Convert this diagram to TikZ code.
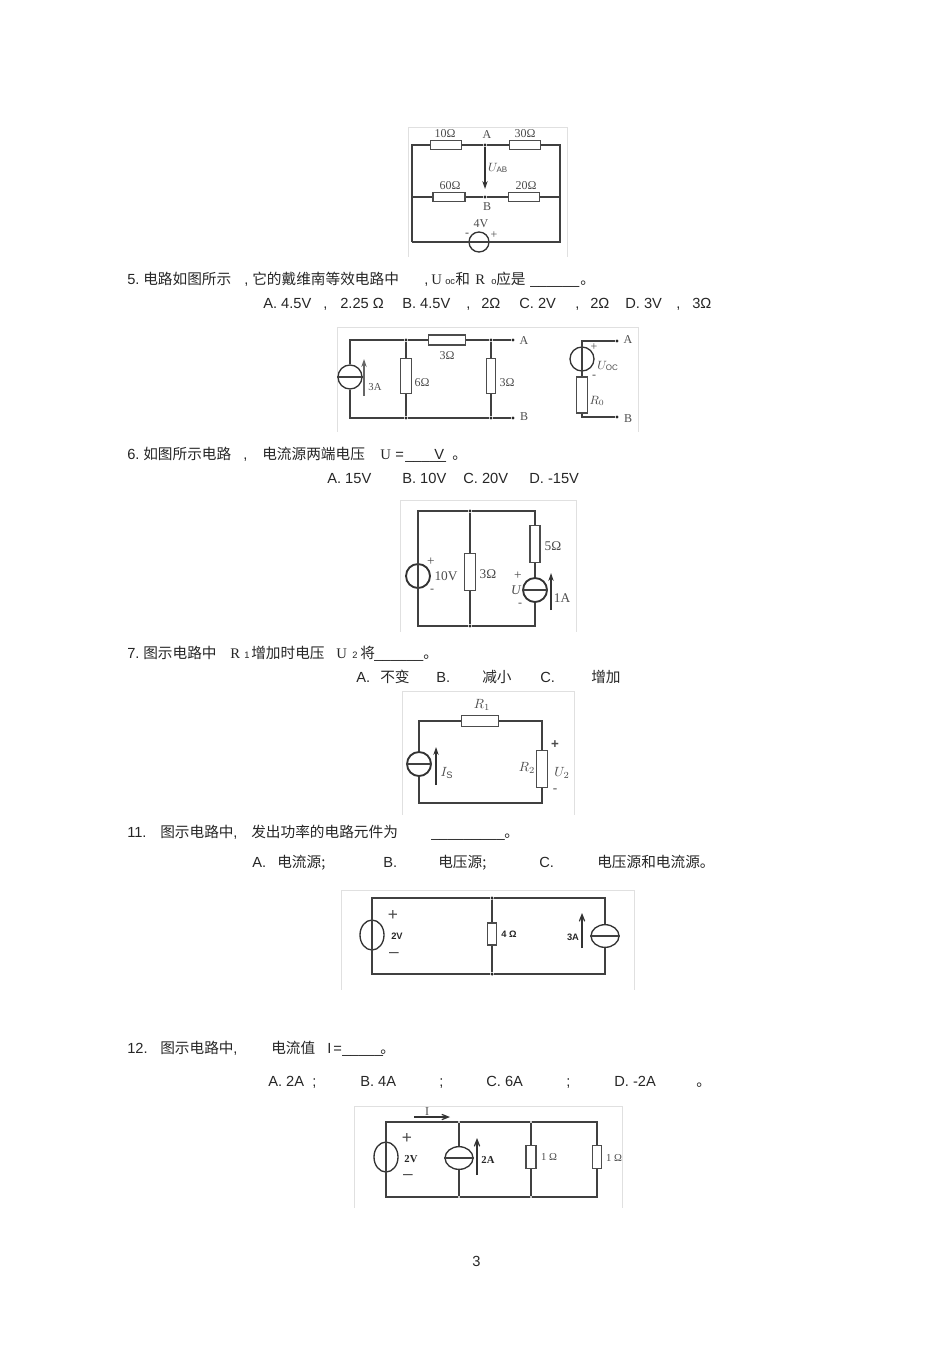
\documentclass[tikz,border=0pt]{standalone}
\usepackage{fontspec}
\setmainfont{Liberation Sans}
\newfontfamily\cjk{Noto Sans CJK SC}
\newfontfamily\serifcir{Liberation Serif}
\usetikzlibrary{shapes.geometric}
\usetikzlibrary{arrows.meta}
\newcommand{\zh}[1]{{\cjk #1}}
\newcommand{\petit}[1]{{\fontsize{7}{8}\selectfont #1}}
\newcommand{\ligne}[3]{\foreach \px/\ptxt [count=\ni] in {#3} \node[texte] (#1-\ni) at (\px,#2) {\ptxt};}
\begin{document}
\begin{tikzpicture}[x=0.75pt,y=-0.75pt]
% définition des paramètres
\tikzstyle texte=[anchor=base west,inner sep=0pt,font=\fontsize{11}{13}\selectfont,color=black!85]
\tikzstyle filcir=[color=black!75,line width=0.8pt]
\tikzstyle cadre=[color=black!12,line width=0.6pt]
\tikzstyle rescir=[draw=black!70,fill=white,rectangle,inner sep=0pt,line width=1pt]
\tikzstyle srccir=[draw=black!80,ellipse,inner sep=0pt,line width=1pt,minimum width=18pt,minimum height=18pt]
\tikzstyle pointcir=[circle,fill=black!85,inner sep=0pt,minimum size=2.6pt]
\tikzstyle etiq=[inner sep=0pt,color=black!70,font=\serifcir\fontsize{9}{10}\selectfont]
\tikzstyle etiqb=[inner sep=0pt,color=black!85,font=\bfseries\fontsize{7}{9}\selectfont]
\tikzstyle fleche=[color=black!80,line width=0.9pt,-{Stealth[length=6pt,width=4pt]}]
\tikzstyle flechev=[color=black!80,line width=0.9pt,-{Straight Barb[length=5pt,width=4pt]}]
\useasboundingbox (0,0) rectangle (950,1345);
% les cadres des figures
\foreach \xa/\ya/\xb/\yb in {408/127/567/257,337/327/638/432,400/500/576/632,402/691/574/815,341/890/634/990,354/1106/622/1208}
    \draw [cadre] (\xa,\yb) -- (\xa,\ya) -- (\xb,\ya) -- (\xb,\yb);
% les textes
\ligne{q5}{284}{127/5.,143/\zh{电路如图所示},244/{,},252/\zh{它的戴维南等效电路中},424/{,},431/{\serifcir U},445/\petit{oc},455/\zh{和},475/{\serifcir R},491/\petit{o},496/\zh{应是},530/\_\_\_\_\_\_,580/\zh{。}}
\ligne{r5}{308}{263/A. 4.5V,323/{,},340/2.25 Ω,402/B. 4.5V,466/{,},481/2Ω,519/C. 2V,575/{,},590/2Ω,625/D. 3V,676/{,},692/3Ω}
\ligne{q6}{459}{127/6.,143/\zh{如图所示电路},243/{,},262/\zh{电流源两端电压},380/{\serifcir U},395/=,405/\_\_\_\rlap{\hspace{3.4pt}V}\_\_,452/\zh{。}}
\ligne{r6}{483}{327/A. 15V,402/B. 10V,463/C. 20V,529/D. -15V}
\ligne{q7}{658}{127/7.,143/\zh{图示电路中},230/{\serifcir R},244/\petit{1},251/\zh{增加时电压},336/{\serifcir U},352/\petit{2},360/\zh{将},374/\_\_\_\_\_\_,423/\zh{。}}
\ligne{r7}{682}{356/A.,380/\zh{不变},436/B.,482/\zh{减小},540/C.,591/\zh{增加}}
\ligne{q11}{837}{127/11.,160/\zh{图示电路中},233/{,},251/\zh{发出功率的电路元件为},431/\_\_\_\_\_\_\_\_\_,504/\zh{。}}
\ligne{r11}{867}{252/A.,277/\zh{电流源;},383/B.,438/\zh{电压源;},539/C.,597/\zh{电压源和电流源。}}
\ligne{q12}{1053}{127/12.,160/\zh{图示电路中},233/{,},271/\zh{电流值},327/I,333/=,342/\_\_\_\_\_,380/\zh{。}}
\ligne{r12}{1086}{268/A. 2A,312/;,360/B. 4A,439/;,486/C. 6A,566/;,614/D. -2A,696/\zh{。}}
\node[texte] (numpage) at (472,1266) {3};
% figure 1 : le pont
\coordinate (hga) at (412,145); \coordinate (hda) at (560,145);
\coordinate (mga) at (412,197); \coordinate (mda) at (560,197);
\coordinate (bga) at (412,242); \coordinate (bda) at (560,242);
\node[pointcir] (nA) at (485,145) {};
\node[pointcir] (nB) at (485,197) {};
\node[rescir,minimum width=23pt,minimum height=6.5pt] (rdix) at (446,145) {};
\node[rescir,minimum width=23pt,minimum height=6.5pt] (rtrente) at (525,145) {};
\node[rescir,minimum width=24pt,minimum height=6.5pt] (rsoix) at (449,197) {};
\node[rescir,minimum width=23pt,minimum height=6.5pt] (rvingt) at (524,197) {};
\node[srccir,minimum width=15pt,minimum height=15pt] (vquatre) at (479,242) {};
\draw [filcir] (vquatre.west) -- (vquatre.east);
\draw [filcir] (bga) -- (mga) -- (hga) -- (rdix) -- (nA) -- (rtrente) -- (hda) -- (mda) -- (bda) -- (vquatre) -- (bga);
\draw [filcir] (mga) -- (rsoix) -- (nB) -- (rvingt) -- (mda);
\coordinate (fab) at (485,189);
\draw [fleche] (nA) -- (fab);
\node[etiq] (lda) at (445,134) {10Ω};
\node[etiq] (ltr) at (525,134) {30Ω};
\node[etiq] (lso) at (450,186) {60Ω};
\node[etiq] (lvi) at (526,186) {20Ω};
\node[etiq] (lA) at (487,135) {A};
\node[etiq] (lB) at (487,207) {B};
\node[etiq] (lU) at (498,168) {$U_{\mathrm{AB}}$};
\node[etiq] (lqu) at (481,224) {4V};
\node[etiq] (lm) at (467,235) {-};
\node[etiq] (lp) at (494,235) {+};
% figure 2 : les deux schémas
\coordinate (hgb) at (350,340); \coordinate (bgb) at (350,418);
\node[pointcir] (nhs) at (406,340) {};
\node[pointcir] (nbs) at (406,418) {};
\node[pointcir] (nhr) at (491,340) {};
\node[pointcir] (nbr) at (491,418) {};
\node[pointcir] (nAb) at (513,340) {};
\node[pointcir] (nBb) at (513,418) {};
\node[srccir] (itrois) at (350,377) {};
\node[rescir,minimum width=8pt,minimum height=26pt] (rsix) at (406,376) {};
\node[rescir,minimum width=28pt,minimum height=7.5pt] (rtrh) at (447,340) {};
\node[rescir,minimum width=6.5pt,minimum height=26pt] (rtrv) at (491,376) {};
\draw [filcir] (itrois.west) -- (itrois.east);
\draw [filcir] (itrois) -- (hgb) -- (nhs) -- (rtrh) -- (nhr) -- (nAb);
\draw [filcir] (itrois) -- (bgb) -- (nbs) -- (nbr) -- (nBb);
\draw [filcir] (nhs) -- (rsix) -- (nbs);
\draw [filcir] (nhr) -- (rtrv) -- (nbr);
\coordinate (fbb) at (364,396); \coordinate (fhb) at (364,359);
\draw [fleche,line width=1.6pt,color=black!60] (fbb) -- (fhb);
\node[etiq,font=\serifcir\fontsize{8}{9}\selectfont] (ltA) at (375,387) {3A};
\node[etiq] (lsi) at (422,383) {6Ω};
\node[etiq] (ltt) at (447,356) {3Ω};
\node[etiq] (ltv) at (507,383) {3Ω};
\node[etiq,font=\serifcir\fontsize{9}{9}\selectfont] (lAb) at (524,341) {A};
\node[etiq,font=\serifcir\fontsize{9}{9}\selectfont] (lBb) at (524,417) {B};
\coordinate (hgc) at (582,341); \coordinate (bgc) at (582,417);
\node[pointcir] (nAc) at (617,341) {};
\node[pointcir] (nBc) at (617,417) {};
\node[srccir] (vco) at (582,359) {};
\node[rescir,minimum width=8pt,minimum height=27pt] (rzero) at (582,395) {};
\draw [filcir] (nAc) -- (hgc) -- (vco.north) -- (vco.south) -- (rzero) -- (bgc) -- (nBc);
\node[etiq] (lpc) at (594,347) {+};
\node[etiq] (lmc) at (594,377) {-};
\node[etiq] (lUo) at (608,366) {$U_{\mathrm{OC}}$};
\node[etiq] (lRo) at (597,401) {$R_0$};
\node[etiq,font=\serifcir\fontsize{9}{9}\selectfont] (lAc) at (628,340) {A};
\node[etiq,font=\serifcir\fontsize{9}{9}\selectfont] (lBc) at (628,419) {B};
% figure 3
\coordinate (hgd) at (418,511); \coordinate (bgd) at (418,626);
\coordinate (hdd) at (535,511); \coordinate (bdd) at (535,626);
\node[pointcir] (nhd) at (470,511) {};
\node[pointcir] (nbd) at (470,626) {};
\node[srccir,line width=1.4pt] (vdix) at (418,576) {};
\node[rescir,minimum width=8pt,minimum height=27.5pt] (rtrd) at (470,572) {};
\node[rescir,minimum width=7.5pt,minimum height=27.5pt] (rcinq) at (535,544) {};
\node[srccir,line width=1.4pt] (iun) at (535,590) {};
\draw [filcir] (iun.west) -- (iun.east);
\draw [filcir] (vdix.north) -- (vdix.south);
\draw [filcir] (vdix) -- (hgd) -- (nhd) -- (hdd) -- (rcinq) -- (iun) -- (bdd) -- (nbd) -- (bgd) -- (vdix);
\draw [filcir] (nhd) -- (rtrd) -- (nbd);
\coordinate (fbd) at (551,610); \coordinate (fhd) at (551,573);
\draw [fleche] (fbd) -- (fhd);
\node[etiq,font=\serifcir\fontsize{10}{10}\selectfont] (lpd) at (431,562) {+};
\node[etiq] (lmd) at (432,591) {-};
\node[etiq,font=\serifcir\fontsize{10}{10}\selectfont] (ldv) at (446,576) {10V};
\node[etiq,font=\serifcir\fontsize{10}{10}\selectfont] (lto) at (488,574) {3Ω};
\node[etiq,font=\serifcir\fontsize{10}{10}\selectfont] (lco) at (553,546) {5Ω};
\node[etiq,font=\serifcir\fontsize{10}{10}\selectfont] (lpu) at (518,576) {+};
\node[etiq,font=\serifcir\itshape\fontsize{10}{10}\selectfont] (lUd) at (516,590) {U};
\node[etiq] (lmu) at (520,605) {-};
\node[etiq,font=\serifcir\fontsize{10}{10}\selectfont] (lun) at (562,598) {1A};
% figure 4
\coordinate (hge) at (419,721); \coordinate (bge) at (419,803);
\coordinate (hde) at (542,721); \coordinate (bde) at (542,803);
\node[srccir,line width=1.4pt] (isrc) at (419,764) {};
\node[rescir,minimum width=28pt,minimum height=8pt] (rpre) at (480,721) {};
\node[rescir,minimum width=8pt,minimum height=28pt] (rdeu) at (542,769) {};
\draw [filcir] (isrc.west) -- (isrc.east);
\draw [filcir] (isrc) -- (hge) -- (rpre) -- (hde) -- (rdeu) -- (bde) -- (bge) -- (isrc);
\coordinate (fbe) at (436,785); \coordinate (fhe) at (436,747);
\draw [fleche] (fbe) -- (fhe);
\node[etiq,font=\serifcir\fontsize{10}{10}\selectfont] (lRu) at (482,705) {$R_1$};
\node[etiq,font=\serifcir\fontsize{10}{10}\selectfont] (lIs) at (447,773) {$I_{\mathrm{S}}$};
\node[etiq,font=\serifcir\fontsize{10}{10}\selectfont] (lRd) at (527,768) {$R_2$};
\node[etiq,font=\serifcir\fontsize{10}{10}\selectfont] (lUe) at (562,773) {$U_2$};
\node[etiq,font=\bfseries\fontsize{10}{10}\selectfont] (lpe) at (555,745) {+};
\node[etiq,font=\serifcir\fontsize{10}{10}\selectfont] (lme) at (555,791) {-};
% figure 5
\coordinate (hgf) at (372,898); \coordinate (bgf) at (372,974);
\coordinate (hdf) at (605,898); \coordinate (bdf) at (605,974);
\node[pointcir] (nhf) at (492,898) {};
\node[pointcir] (nbf) at (492,974) {};
\node[srccir,minimum width=18pt,minimum height=22.5pt] (vdeux) at (372,935) {};
\node[srccir,minimum width=21pt,minimum height=17pt] (itr) at (605,936) {};
\node[rescir,minimum width=7pt,minimum height=16.5pt] (rqua) at (492,934) {};
\draw [filcir] (vdeux.north) -- (vdeux.south);
\draw [filcir] (itr.west) -- (itr.east);
\draw [filcir] (vdeux) -- (hgf) -- (nhf) -- (hdf) -- (itr) -- (bdf) -- (nbf) -- (bgf) -- (vdeux);
\draw [filcir] (nhf) -- (rqua) -- (nbf);
\coordinate (fbf) at (582,948); \coordinate (fhf) at (582,913);
\draw [flechev] (fbf) -- (fhf);
\node[etiq,font=\fontsize{13}{13}\selectfont] (lpf) at (393,915) {+};
\node[etiqb] (ldf) at (397,936) {2V};
\node[etiq,font=\fontsize{13}{13}\selectfont] (lmf) at (394,955) {\textendash};
\node[etiqb] (lqf) at (509,934) {4 Ω};
\node[etiqb] (ltf) at (573,937) {3A};
% figure 6
\coordinate (hgg) at (386,1122); \coordinate (bgg) at (386,1197);
\coordinate (hdg) at (597,1122); \coordinate (bdg) at (597,1197);
\node[pointcir,minimum size=1pt] (nsh) at (459,1122) {};
\node[pointcir,minimum size=1pt] (nsb) at (459,1197) {};
\node[pointcir,minimum size=1pt] (nrh) at (531,1122) {};
\node[pointcir,minimum size=1pt] (nrb) at (531,1197) {};
\node[srccir,minimum width=18pt,minimum height=22.5pt] (vdg) at (386,1157) {};
\node[srccir,minimum width=21pt,minimum height=17pt] (idg) at (459,1158) {};
\node[rescir,minimum width=7.5pt,minimum height=17pt] (run) at (531,1157) {};
\node[rescir,minimum width=6.5pt,minimum height=17pt] (rde) at (597,1157) {};
\draw [filcir] (vdg.north) -- (vdg.south);
\draw [filcir] (idg.west) -- (idg.east);
\draw [filcir] (vdg) -- (hgg) -- (nsh) -- (nrh) -- (hdg) -- (rde) -- (bdg) -- (nrb) -- (nsb) -- (bgg) -- (vdg);
\draw [filcir] (nsh) -- (idg) -- (nsb);
\draw [filcir] (nrh) -- (run) -- (nrb);
\coordinate (fbg) at (477,1175); \coordinate (fhg) at (477,1138);
\draw [flechev] (fbg) -- (fhg);
\coordinate (fgi) at (414,1117); \coordinate (fdi) at (450,1117);
\draw [flechev] (fgi) -- (fdi);
\node[etiq] (lI) at (427,1112) {I};
\node[etiq,font=\fontsize{13}{13}\selectfont] (lpg) at (407,1138) {+};
\node[etiqb,font=\serifcir\bfseries\fontsize{8}{9}\selectfont] (ldg) at (411,1159) {2V};
\node[etiq,font=\fontsize{13}{13}\selectfont] (lmg) at (408,1177) {\textendash};
\node[etiqb,font=\serifcir\bfseries\fontsize{8}{9}\selectfont] (lag) at (488,1160) {2A};
\node[etiq,font=\serifcir\fontsize{8}{9}\selectfont] (lug) at (549,1157) {1 Ω};
\node[etiq,font=\serifcir\fontsize{8}{9}\selectfont] (lvg) at (614,1158) {1 Ω};
\end{tikzpicture}
\end{document}
